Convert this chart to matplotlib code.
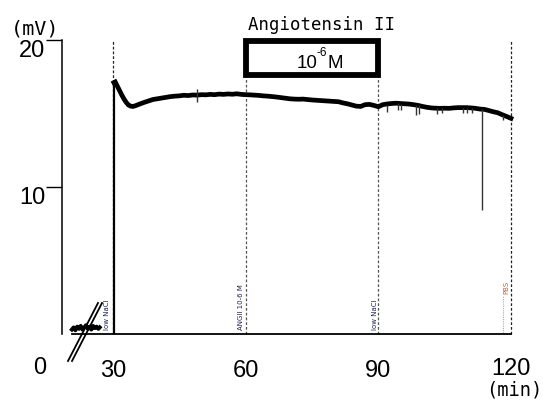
import matplotlib
matplotlib.use('Agg')
import matplotlib.pyplot as plt
from matplotlib.patches import Rectangle
from matplotlib.lines import Line2D
from matplotlib.transforms import ScaledTranslation

# ---------------- data ----------------
event_times = [30, 60, 90, 120]
x_tick_labels = ['30', '60', '90', '120']
y_ticks = [10, 20]
y_tick_labels = ['10', '20']

# baseline recording before the axis break (display minutes, mV)
t_pre = [20.7, 21.1, 21.5, 21.9, 22.3, 22.7, 23.1, 23.5, 23.9, 24.3, 24.7, 25.1, 25.5, 25.9, 26.3, 26.7, 27.0]
v_pre = [0.30, 0.45, 0.25, 0.50, 0.35, 0.55, 0.30, 0.45, 0.60, 0.35, 0.50, 0.30, 0.55, 0.40, 0.50, 0.35, 0.45]

# rise at 30 min
rise_t = 30.15
rise_low, rise_high = 0.0, 17.0

# main trace (min, mV)
t_main = [30.2, 30.5, 31.0, 31.5, 32.0, 32.5, 33.0, 33.5, 34.0, 34.5, 35.0, 35.5, 36, 37, 38, 39, 40,
          41, 42, 43, 44, 45, 46, 47, 48, 49, 50, 51, 52, 53, 54, 55, 56, 57, 58, 59, 60,
          61, 62, 63, 64, 65, 66, 67, 68, 69, 70, 71, 72, 73, 74, 75, 76, 77, 78, 79, 80,
          81, 82, 83, 84, 85, 86, 87, 88, 89, 90, 91, 92, 93, 94, 95, 96, 97, 98, 99, 100,
          101, 102, 103, 104, 105, 106, 107, 108, 109, 110, 111, 112, 113, 114, 115, 116, 117, 118, 119, 120]
v_main = [17.1, 17.15, 16.85, 16.55, 16.25, 15.98, 15.75, 15.58, 15.5, 15.48, 15.52, 15.58, 15.64, 15.75, 15.85, 15.95, 16.0,
          16.05, 16.1, 16.15, 16.18, 16.2, 16.24, 16.22, 16.26, 16.25, 16.28, 16.27, 16.3, 16.28, 16.32, 16.3, 16.33, 16.31, 16.34, 16.3, 16.28,
          16.27, 16.25, 16.23, 16.2, 16.18, 16.15, 16.12, 16.08, 16.04, 16.0, 15.98, 15.97, 15.98, 15.95, 15.92, 15.9, 15.88, 15.86, 15.84, 15.82,
          15.8, 15.72, 15.66, 15.58, 15.5, 15.48, 15.6, 15.62, 15.55, 15.46, 15.6, 15.65, 15.68, 15.7, 15.68, 15.66, 15.64, 15.6, 15.55, 15.48,
          15.42, 15.38, 15.36, 15.35, 15.36, 15.35, 15.38, 15.4, 15.4, 15.4, 15.38, 15.35, 15.3, 15.28, 15.2, 15.12, 15.05, 14.92, 14.8, 14.67]

# artefact spikes (min, top mV, bottom mV)
spike_t = [48.9, 92.0, 94.5, 95.1, 98.5, 99.3, 103.2, 104.3, 109.1, 110.0, 111.1, 113.4, 118.3]
spike_top = [16.7, 15.6, 15.7, 15.68, 15.6, 15.55, 15.36, 15.35, 15.4, 15.4, 15.38, 15.3, 14.92]
spike_bottom = [15.8, 15.12, 15.24, 15.24, 14.9, 14.97, 14.94, 15.06, 15.0, 15.0, 15.0, 8.44, 14.56]

event_labels = ['low NaCl', 'ANGII 10-6 M', 'low NaCl', 'PBS']

# ---------------- figure ----------------
W, H = 544, 401
fig = plt.figure(figsize=(5.44, 4.01), dpi=100)

def fx(px):
    return px / W

def fy(py):
    return 1 - py / H

ax = fig.add_axes([fx(62), fy(334), fx(511) - fx(62), fy(40) - fy(334)])
ax.set_xlim(18.47, 120)
ax.set_ylim(0, 20)

for s in ['top', 'right']:
    ax.spines[s].set_visible(False)
ax.spines['left'].set_bounds(0, 20)
ax.spines['bottom'].set_bounds(20.7, 120)
ax.spines['left'].set_linewidth(1.1)
ax.spines['bottom'].set_linewidth(1.3)

num_font = 'Liberation Sans'
mono_font = 'DejaVu Sans Mono'

ax.set_yticks(y_ticks)
ax.set_yticklabels(y_tick_labels, fontsize=17, family=num_font)
ax.tick_params(axis='y', length=11.5, width=1.0, direction='out', pad=0.5)
for lab in ax.get_yticklabels():
    lab.set_verticalalignment('top')

ax.set_xticks(event_times)
ax.set_xticklabels(x_tick_labels, fontsize=17, family=num_font)
ax.tick_params(axis='x', length=0, pad=19)
# nudge the last label up slightly so it does not collide with the unit
last = ax.get_xticklabels()[-1]
last.set_transform(last.get_transform() + ScaledTranslation(0, 2 / 72, fig.dpi_scale_trans))

# dashed event lines
for t in event_times:
    top = 17.6 if t in (60, 90) else 20
    col = '#555555' if t in (60, 90) else '#222222'
    ax.vlines(t, 0, top, colors=col, linestyles=(0, (2.2, 1.6)), linewidth=0.9, zorder=1, clip_on=False)

# traces
ax.plot(t_pre, v_pre, color='black', lw=2.8, clip_on=False, zorder=3)
ax.vlines(rise_t, rise_low, rise_high, colors='black', linewidth=1.6, zorder=3)
ax.plot(t_main, v_main, color='black', lw=3.4, solid_joinstyle='miter', zorder=3, clip_on=False)
ax.vlines(spike_t, spike_bottom, spike_top, colors='#333333', linewidth=1.0, zorder=3)

# small event annotations
lab_kw = dict(rotation=90, fontsize=5, ha='center', va='bottom', zorder=5)
ax.text(28.6, 0.3, event_labels[0], color='#1a2050', **lab_kw)
ax.text(59.0, 0.3, event_labels[1], color='#1a2050', **lab_kw)
ax.text(89.2, 0.3, event_labels[2], color='#1a2050', **lab_kw)
ax.vlines(118.2, 0.1, 2.6, colors='#e0a060', linestyles=(0, (1, 1)), linewidth=0.8, clip_on=False)
ax.text(118.9, 2.7, event_labels[3], color='#c06030', clip_on=False, **lab_kw)

# stimulus box
rect = Rectangle((60, 17.65), 30, 2.31, fill=False, edgecolor='black', lw=4.2, clip_on=False, zorder=4)
ax.add_patch(rect)

# axis break marks (figure pixel coords)
fig.add_artist(Line2D([fx(68), fx(98)], [fy(361), fy(303)], color='black', lw=1.3))
fig.add_artist(Line2D([fx(72), fx(102)], [fy(361), fy(303)], color='black', lw=1.3))

# texts
fig.text(fx(322), fy(25), 'Angiotensin II', fontsize=12.5, family=mono_font, ha='center', va='center')
fig.text(fx(307), fy(64), '10', fontsize=13.5, family=num_font, ha='center', va='center')
fig.text(fx(322), fy(53), '-6', fontsize=8.5, family=num_font, ha='center', va='center')
fig.text(fx(335), fy(64), 'M', fontsize=13.5, family=num_font, ha='center', va='center')
fig.text(fx(35), fy(29), '(mV)', fontsize=14.5, family=mono_font, ha='center', va='center')
fig.text(fx(514), fy(390), '(min)', fontsize=13.5, family=mono_font, ha='center', va='center')
fig.text(fx(40), fy(368), '0', fontsize=17, family=num_font, ha='center', va='center')

fig.savefig('out.png', dpi=100)
